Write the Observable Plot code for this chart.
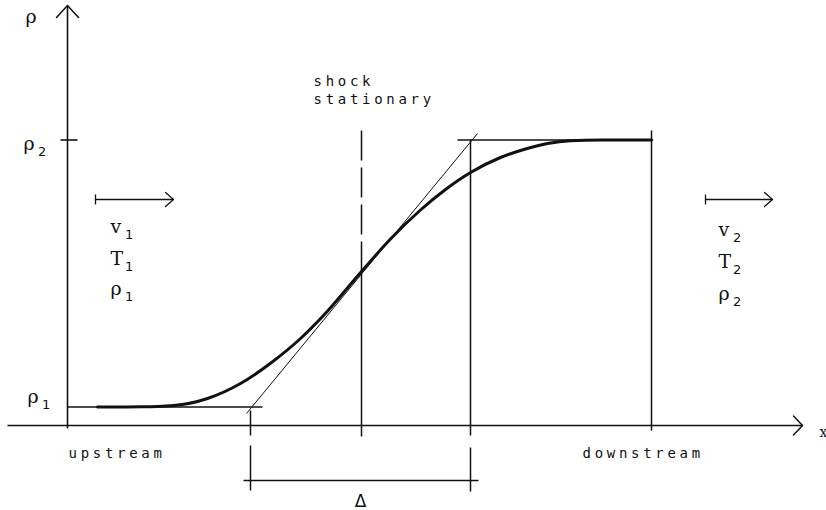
<!DOCTYPE html>
<html>
<head>
<meta charset="utf-8">
<script src="https://cdn.jsdelivr.net/npm/d3@7"></script>
<script src="https://cdn.jsdelivr.net/npm/@observablehq/plot@0.6"></script>
<style>
  html, body { margin: 0; padding: 0; background: #fff; }
  svg { display: block; }
</style>
</head>
<body>
<div id="chart"></div>
<script>
// Schematic units: x measured from the ρ axis, ρ measured from the x axis.
const rho1 = 1.85;
const rho2 = 28.55;
const xShock = 29.4;
const xDeltaLeft = 18.3;
const xDeltaRight = 40.3;
const xDownstream = 58.4;

// density profile through the shock
const profile = [
  [3.0, 1.85], [7.3, 1.87], [10.6, 2.0], [14.0, 2.7], [17.3, 4.2], [20.6, 6.45],
  [23.3, 8.7], [25.6, 11.0], [29.4, 15.4], [32.3, 18.65], [35.3, 21.55], [37.8, 23.6],
  [40.3, 25.3], [43.3, 26.8], [45.8, 27.65], [48.0, 28.2], [50.3, 28.48], [53.3, 28.55],
  [58.4, 28.55]
];

// inflection tangent
const tangent = [{x1: 17.9, y1: 1.2, x2: 41.0, y2: 29.2}];

// axes
const axes = [
  {x1: 0, y1: -0.3, x2: 0, y2: 42.0},
  {x1: -6.0, y1: 0, x2: 73.5, y2: 0}
];
const axisHeads = [
  {id: "rho", pts: [[-1.1, 40.8], [0, 42.0], [1.1, 40.8]]},
  {id: "x", pts: [[72.6, 0.95], [73.5, 0], [72.6, -0.95]]}
];

// level lines and guides
const levels = [
  {x1: -0.7, y1: rho2, x2: 1.0, y2: rho2},
  {x1: 0, y1: rho1, x2: 19.5, y2: rho1},
  {x1: 39.0, y1: rho2, x2: 58.5, y2: rho2}
];
const guides = [
  {x1: xDeltaLeft, y1: 1.5, x2: xDeltaLeft, y2: -1.0},
  {x1: xDeltaLeft, y1: -2.0, x2: xDeltaLeft, y2: -6.5},
  {x1: xDeltaRight, y1: 28.6, x2: xDeltaRight, y2: -1.0},
  {x1: xDeltaRight, y1: -2.2, x2: xDeltaRight, y2: -6.6},
  {x1: xShock, y1: 15.4, x2: xShock, y2: -1.1},
  {x1: xDownstream, y1: 29.5, x2: xDownstream, y2: -0.5},
  {x1: 17.6, y1: -5.5, x2: 41.1, y2: -5.5}
];
const shockDashed = [{x1: xShock, y1: 29.5, x2: xShock, y2: 15.4}];

// flow arrows (upstream, downstream)
const flowShafts = [
  {x1: 2.8, y1: 22.6, x2: 10.6, y2: 22.6},
  {x1: 2.8, y1: 23.1, x2: 2.8, y2: 22.1},
  {x1: 63.8, y1: 22.6, x2: 70.5, y2: 22.6},
  {x1: 63.8, y1: 23.1, x2: 63.8, y2: 22.1}
];
const flowHeads = [
  {id: "up", pts: [[9.8, 23.3], [10.6, 22.6], [9.8, 21.9]]},
  {id: "down", pts: [[69.7, 23.3], [70.5, 22.6], [69.7, 21.9]]}
];

// texts
const monoLabels = [
  {x: 24.6, y: 34.0, text: "shock"},
  {x: 24.6, y: 32.2, text: "stationary"},
  {x: 0.1, y: -3.2, text: "upstream"},
  {x: 51.5, y: -3.2, text: "downstream"}
];
const symbolLabels = [
  {x: -4.2, y: 40.3, base: "ρ", sub: ""},
  {x: -4.4, y: 27.6, base: "ρ", sub: "2"},
  {x: -4.0, y: 2.3, base: "ρ", sub: "1"},
  {x: 4.3, y: 19.3, base: "v", sub: "1"},
  {x: 4.3, y: 16.1, base: "T", sub: "1"},
  {x: 4.3, y: 13.1, base: "ρ", sub: "1"},
  {x: 65.1, y: 19.0, base: "v", sub: "2"},
  {x: 65.1, y: 15.8, base: "T", sub: "2"},
  {x: 65.1, y: 12.6, base: "ρ", sub: "2"}
];
const subOffset = {x: 1.45, y: -0.6};
const axisLabel = [{x: 75.2, y: -1.1, text: "x"}];
const deltaLabel = [{x: 29.3, y: -8.1, text: "Δ"}];

const ink = "#111";
const linkOpts = {x1: "x1", y1: "y1", x2: "x2", y2: "y2", stroke: ink};
const headPts = (arr) => arr.flatMap(d => d.pts.map(p => ({id: d.id, x: p[0], y: p[1]})));

const chart = Plot.plot({
  width: 826,
  height: 510,
  margin: 0,
  x: {domain: [-6.7, 75.9], axis: null},
  y: {domain: [-8.5, 42.5], axis: null},
  style: {background: "#fff"},
  marks: [
    Plot.link(axes, {...linkOpts, strokeWidth: 1.6}),
    Plot.line(headPts(axisHeads), {x: "x", y: "y", z: "id", stroke: ink, strokeWidth: 1.5}),
    Plot.link(levels, {...linkOpts, strokeWidth: 1.6}),
    Plot.link(guides, {...linkOpts, strokeWidth: 1.5}),
    Plot.link(shockDashed, {...linkOpts, strokeWidth: 1.5, strokeDasharray: "30,7"}),
    Plot.link(tangent, {...linkOpts, strokeWidth: 1}),
    Plot.link(flowShafts, {...linkOpts, strokeWidth: 1.3}),
    Plot.line(headPts(flowHeads), {x: "x", y: "y", z: "id", stroke: ink, strokeWidth: 1.3}),
    Plot.line(profile, {x: d => d[0], y: d => d[1], curve: "monotone-x", stroke: ink, strokeWidth: 3}),
    Plot.text(monoLabels, {x: "x", y: "y", text: "text", textAnchor: "start", lineAnchor: "bottom",
      fontFamily: "DejaVu Sans Mono", fontSize: 14, fill: ink}),
    Plot.text(symbolLabels, {x: "x", y: "y", text: "base", textAnchor: "start", lineAnchor: "bottom",
      fontFamily: "DejaVu Serif", fontSize: 19, fill: ink}),
    Plot.text(symbolLabels, {x: d => d.x + subOffset.x, y: d => d.y + subOffset.y, text: "sub",
      textAnchor: "start", lineAnchor: "bottom", fontFamily: "DejaVu Sans", fontSize: 13, fill: ink}),
    Plot.text(axisLabel, {x: "x", y: "y", text: "text", textAnchor: "start", lineAnchor: "bottom",
      fontFamily: "DejaVu Serif", fontSize: 14, fill: ink}),
    Plot.text(deltaLabel, {x: "x", y: "y", text: "text", textAnchor: "middle", lineAnchor: "bottom",
      fontFamily: "DejaVu Sans", fontSize: 17, fill: ink})
  ]
});

d3.select(chart).selectAll("text").filter(function() {
  const g = this.closest("g[font-family]");
  return g && g.getAttribute("font-family") === "DejaVu Sans Mono";
}).style("letter-spacing", "3.7px");
document.getElementById("chart").appendChild(chart);
</script>
</body>
</html>
